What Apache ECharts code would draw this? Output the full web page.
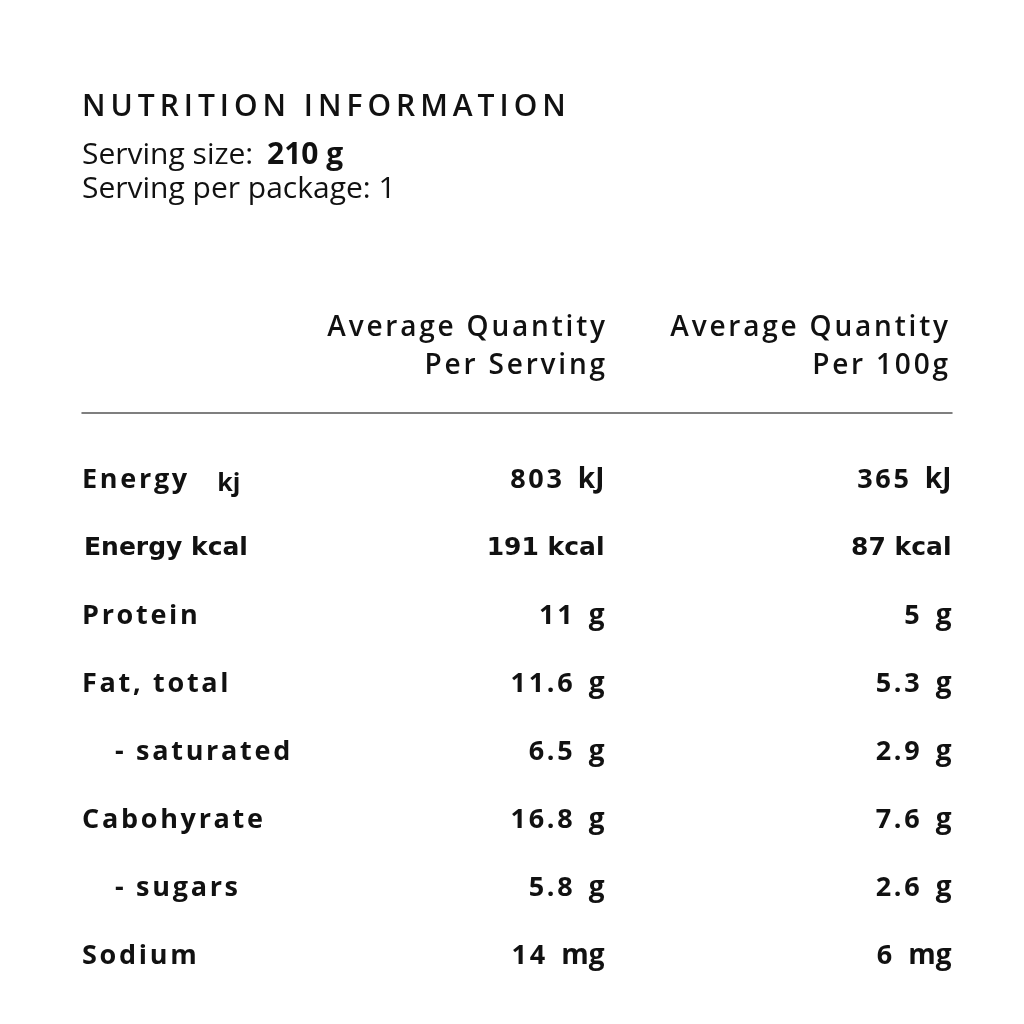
<!DOCTYPE html>
<html>
<head>
<meta charset="utf-8">
<script src="https://cdn.jsdelivr.net/npm/echarts@6/dist/echarts.min.js"></script>
<style>
  html, body { margin: 0; padding: 0; background: #fff; }
  #main { width: 1024px; height: 1024px; }
</style>
</head>
<body>
<div id="main"></div>
<script>
// table content
var nutrients = ['Energy kj', 'Energy kcal', 'Protein', 'Fat, total', '- saturated', 'Cabohyrate', '- sugars', 'Sodium'];
var perServing = ['803', '191', '11', '11.6', '6.5', '16.8', '5.8', '14'];
var per100g = ['365', '87', '5', '5.3', '2.9', '7.6', '2.6', '6'];
var units = ['kJ', 'kcal', 'g', 'g', 'g', 'g', 'g', 'mg'];
var headLine1 = ['Average Quantity', 'Average Quantity'];
var headLine2 = ['Per Serving', 'Per 100g'];
var servingSize = '210 g';
var servingsPerPackage = '1';

var FONT = '"Open Sans", "Noto Sans", sans-serif';
var ALT = '"DejaVu Sans", sans-serif';
var INK = '#111';

// fake letter spacing with hair spaces
function sp(s) {
  return s.split('').join('\u200A');
}

var myChart = echarts.init(document.getElementById('main'));

var colX = [(605 - 82) / 870, 1];

function valueSeries(vals, x) {
  return {
    type: 'scatter',
    symbolSize: 1,
    itemStyle: { color: 'transparent' },
    silent: true,
    data: vals.map(function (v, i) { return [x, nutrients[i]]; }),
    label: {
      show: true,
      position: 'left',
      distance: 0,
      color: INK,
      opacity: 1,
      formatter: function (p) {
        var i = p.dataIndex;
        if (units[i] === 'kcal') return '{k|' + vals[i] + ' kcal}';
        return '{n|' + sp(vals[i]) + '}{u|' + units[i] + '}';
      },
      rich: {
        n: { fontFamily: FONT, fontWeight: 700, fontSize: 27, color: INK },
        u: { fontFamily: FONT, fontWeight: 700, fontSize: 28, color: INK, padding: [0, 0, 0, 16] },
        k: { fontFamily: ALT, fontWeight: 700, fontSize: 25, color: INK }
      }
    }
  };
}

function head(txt, right, top) {
  return {
    text: sp(txt), right: right, top: top, padding: 0,
    textStyle: { fontFamily: FONT, fontWeight: 600, fontSize: 28, color: INK }
  };
}

var option = {
  backgroundColor: '#fff',
  animation: false,
  title: [
    {
      text: 'NUTRITION INFORMATION'.split('').join('\u2009'),
      left: 82, top: 92, padding: 0,
      textStyle: { fontFamily: FONT, fontWeight: 600, fontSize: 30, color: INK }
    },
    {
      text: 'Serving size: {b|' + servingSize + '}',
      left: 82, top: 140, padding: 0,
      textStyle: {
        fontFamily: FONT, fontWeight: 400, fontSize: 30, color: INK,
        rich: { b: { fontFamily: FONT, fontWeight: 700, fontSize: 30, color: INK, padding: [0, 0, 0, 6] } }
      }
    },
    {
      text: 'Serving per package: ' + servingsPerPackage,
      left: 82, top: 174, padding: 0,
      textStyle: { fontFamily: FONT, fontWeight: 400, fontSize: 30, color: INK }
    },
    head(headLine1[0], 1024 - 605, 314),
    head(headLine2[0], 1024 - 605, 352),
    head(headLine1[1], 1024 - 948, 314),
    head(headLine2[1], 1024 - 948, 352)
  ],
  grid: { left: 82, right: 72, top: 446, bottom: 34 },
  xAxis: {
    type: 'value', min: 0, max: 1, position: 'top', offset: 33,
    axisLine: { show: true, lineStyle: { color: '#555', width: 1.5 } },
    axisTick: { show: false }, axisLabel: { show: false }, splitLine: { show: false }
  },
  yAxis: {
    type: 'category', inverse: true, data: nutrients,
    axisLine: { show: false }, axisTick: { show: false }, splitLine: { show: false },
    axisLabel: {
      inside: true, margin: 0,
      formatter: function (v) {
        if (v === 'Energy kj') return '{a|' + sp('Energy') + '}{kj|kj}';
        if (v === 'Energy kcal') return '{k|Energy kcal}';
        if (v.charAt(0) === '-') return '{ind|' + sp(v) + '}';
        return '{a|' + sp(v) + '}';
      },
      rich: {
        a: { fontFamily: FONT, fontWeight: 700, fontSize: 27, color: INK },
        ind: { fontFamily: FONT, fontWeight: 700, fontSize: 27, color: INK, padding: [0, 0, 0, 33] },
        kj: { fontFamily: FONT, fontWeight: 700, fontSize: 25, color: INK, padding: [8, 0, 0, 30] },
        k: { fontFamily: ALT, fontWeight: 700, fontSize: 25, color: INK, padding: [0, 0, 0, 2] }
      }
    }
  },
  series: [valueSeries(perServing, colX[0]), valueSeries(per100g, colX[1])]
};

myChart.setOption(option);
</script>
</body>
</html>
